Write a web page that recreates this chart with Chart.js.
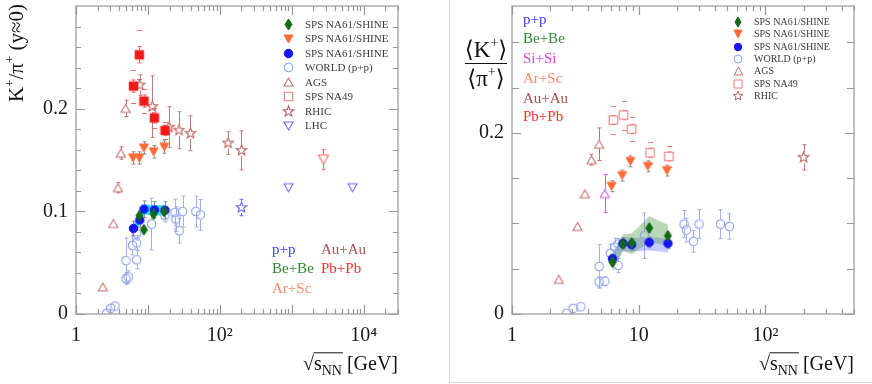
<!DOCTYPE html>
<html>
<head>
<meta charset="utf-8">
<script src="https://cdn.jsdelivr.net/npm/chart.js@4.4.1/dist/chart.umd.min.js"></script>
<style>
  html, body { margin: 0; padding: 0; background: #fff; }
  #wrap { position: relative; width: 872px; height: 384px; overflow: hidden; }
  #left { position: absolute; left: 0; top: 0; width: 448px; height: 384px; }
  #right { position: absolute; left: 449px; top: 0; width: 422px; height: 382px;
           border-left: 1px solid #d6d6d6; border-bottom: 1px solid #d6d6d6; }
  canvas { display: block; }
</style>
</head>
<body>
<div id="wrap">
  <div id="left"><canvas id="cLeft" width="448" height="384"></canvas></div>
  <div id="right"><canvas id="cRight" width="422" height="382"></canvas></div>
</div>
<script>
const FONT = "'Liberation Serif', 'DejaVu Serif', serif";

// ---------- left panel: K+/pi+ at y~0 ----------
const lBeBeX = [7.6, 8.8, 12.0, 16.8];
const lBeBeY = [0.0957, 0.0821, 0.0973, 0.0998];
const lBeBeE = [0.005, 0.005, 0.005, 0.005];
const lArScX = [6.2, 7.6, 8.8, 12.0, 16.9];
const lArScY = [0.152, 0.152, 0.1617, 0.158, 0.1626];
const lArScE = [0.006, 0.006, 0.006, 0.006, 0.006];
const lPPX = [6.3, 7.7, 8.8, 12.3, 17.3];
const lPPY = [0.0834, 0.0915, 0.1021, 0.1014, 0.1012];
const lPPE = [0.007, 0.007, 0.008, 0.008, 0.008];
const lBandX = [6.3, 7.7, 8.8, 12.3, 17.3];
const lBandHi = [0.088, 0.097, 0.107, 0.106, 0.106];
const lBandLo = [0.078, 0.087, 0.097, 0.096, 0.096];
const lWorldX = [2.67, 3.03, 3.48, 4.95, 5.33, 4.95, 6.1, 6.96, 6.96, 6.96, 11.2, 17.2, 23.7, 24.5, 27.2, 30.3, 46.4, 53.8];
const lWorldY = [0.0007, 0.0055, 0.0077, 0.0345, 0.036, 0.052, 0.0667, 0.0693, 0.0528, 0.078, 0.0876, 0.0957, 0.0988, 0.0925, 0.0812, 0.0998, 0.0998, 0.0966];
const lWorldE = [0.001, 0.001, 0.001, 0.006, 0.006, 0.022, 0.009, 0.007, 0.009, 0.006, 0.025, 0.006, 0.013, 0.012, 0.012, 0.015, 0.015, 0.015];
const lAgsX = [2.36, 3.3, 3.83, 4.2, 4.9];
const lAgsY = [0.0264, 0.0882, 0.123, 0.1568, 0.2003];
const lAgsE = [0.003, 0.003, 0.005, 0.006, 0.008];
const lNa49X = [6.3, 7.6, 8.8, 12.3, 17.3];
const lNa49Y = [0.222, 0.2525, 0.2074, 0.191, 0.1787];
const lNa49E = [0.006, 0.008, 0.006, 0.005, 0.005];
const lNa49S = [0.016, 0.024, 0.012, 0.010, 0.008];
const lRhicX = [7.7, 11.5, 19.6, 27, 39, 130, 200];
const lRhicY = [0.223, 0.202, 0.182, 0.179, 0.176, 0.1665, 0.1594];
const lRhicE = [0.01, 0.03, 0.02, 0.018, 0.017, 0.011, 0.019];
const lRhicPPX = [200];
const lRhicPPY = [0.1037];
const lRhicPPE = [0.008];
const lLhcX = [900, 7000];
const lLhcY = [0.123, 0.123];
const lLhcPbX = [2760];
const lLhcPbY = [0.1504];
const lLhcPbE = [0.01];

const lXLabelVals = [1, 100, 10000];
const lXLabelText = ['1', '10\u00b2', '10\u2074'];
const lYLabelVals = [0, 0.1, 0.2];
const lYLabelText = ['0', '0.1', '0.2'];
const lYTicks = [0, 0.02, 0.04, 0.06, 0.08, 0.1, 0.12, 0.14, 0.16, 0.18, 0.2, 0.22, 0.24, 0.26, 0.28];
const lLegendText = ['SPS NA61/SHINE', 'SPS NA61/SHINE', 'SPS NA61/SHINE', 'WORLD (p+p)', 'AGS', 'SPS NA49', 'RHIC', 'LHC'];
const lSysText = ['p+p', 'Be+Be', 'Ar+Sc', 'Au+Au', 'Pb+Pb'];

// ---------- right panel: <K+>/<pi+> ----------
const rBeBeX = [6.2, 7.5, 8.8, 12.1, 17.0];
const rBeBeY = [0.0572, 0.0773, 0.0785, 0.0949, 0.0864];
const rBeBeE = [0.004, 0.004, 0.004, 0.005, 0.005];
const rArScX = [6.1, 7.4, 8.6, 11.8, 16.7];
const rArScY = [0.141, 0.1528, 0.1685, 0.163, 0.1583];
const rArScE = [0.006, 0.006, 0.006, 0.006, 0.006];
const rPPX = [6.2, 7.5, 8.8, 12.1, 17.0];
const rPPY = [0.061, 0.078, 0.0766, 0.0791, 0.078];
const rPPE = [0.005, 0.006, 0.006, 0.006, 0.006];
const rGreenX = [6.2, 7.5, 8.8, 12.1, 17.0];
const rGreenHi = [0.066, 0.088, 0.089, 0.108, 0.0985];
const rGreenLo = [0.046, 0.070, 0.066, 0.079, 0.0755];
const rBlueX = [6.2, 7.5, 8.8, 12.1, 17.0];
const rBlueHi = [0.068, 0.085, 0.084, 0.085, 0.083];
const rBlueLo = [0.052, 0.069, 0.069, 0.070, 0.068];
const rWorldX = [2.7, 3.04, 3.49, 4.87, 4.87, 5.4, 5.98, 6.47, 6.87, 6.87, 11.1, 22.8, 23.8, 27, 29.9, 44.2, 52];
const rWorldY = [0.0008, 0.0062, 0.008, 0.0525, 0.0354, 0.0361, 0.067, 0.0737, 0.0536, 0.0773, 0.0864, 0.0992, 0.0927, 0.0802, 0.0992, 0.0992, 0.0966];
const rWorldE = [0.001, 0.001, 0.001, 0.024, 0.006, 0.005, 0.01, 0.01, 0.008, 0.006, 0.025, 0.015, 0.013, 0.012, 0.016, 0.016, 0.014];
const rAgsX = [2.34, 3.29, 3.76, 4.24, 4.87];
const rAgsY = [0.0383, 0.0966, 0.1327, 0.1703, 0.1874];
const rAgsE = [0.003, 0.003, 0.004, 0.006, 0.018];
const rSiX = [5.4];
const rSiY = [0.133];
const rSiE = [0.021];
const rNa49X = [6.3, 7.6, 8.8, 12.3, 17.3];
const rNa49Y = [0.2141, 0.2196, 0.2041, 0.178, 0.174];
const rNa49E = [0.005, 0.005, 0.005, 0.005, 0.005];
const rNa49S = [0.015, 0.016, 0.013, 0.012, 0.012];
const rRhicX = [200];
const rRhicY = [0.1729];
const rRhicE = [0.014];

const rXLabelVals = [1, 10, 100];
const rXLabelText = ['1', '10', '10\u00b2'];
const rYLabelVals = [0, 0.2];
const rYLabelText = ['0', '0.2'];
const rYTicks = [0, 0.05, 0.1, 0.15, 0.2, 0.25, 0.3];
const rLegendText = ['SPS NA61/SHINE', 'SPS NA61/SHINE', 'SPS NA61/SHINE', 'WORLD (p+p)', 'AGS', 'SPS NA49', 'RHIC'];
const rSysText = ['p+p', 'Be+Be', 'Si+Si', 'Ar+Sc', 'Au+Au', 'Pb+Pb'];

// ---------- markers ----------
function marker(shape, w, h, stroke, fill, lw) {
  const c = document.createElement('canvas');
  c.width = Math.ceil(w + 4); c.height = Math.ceil(h + 4);
  const g = c.getContext('2d');
  const cx = c.width / 2, cy = c.height / 2, hw = w / 2, hh = h / 2;
  g.beginPath();
  if (shape === 'circle') g.arc(cx, cy, hw, 0, Math.PI * 2);
  else if (shape === 'square') g.rect(cx - hw, cy - hh, w, h);
  else if (shape === 'tri') { g.moveTo(cx, cy - hh); g.lineTo(cx + hw, cy + hh); g.lineTo(cx - hw, cy + hh); g.closePath(); }
  else if (shape === 'triDown') { g.moveTo(cx, cy + hh); g.lineTo(cx + hw, cy - hh); g.lineTo(cx - hw, cy - hh); g.closePath(); }
  else if (shape === 'diamond') { g.moveTo(cx, cy - hh); g.lineTo(cx + hw, cy); g.lineTo(cx, cy + hh); g.lineTo(cx - hw, cy); g.closePath(); }
  else if (shape === 'star') {
    for (let k = 0; k < 10; k++) {
      const r = k % 2 ? hw * 0.42 : hw;
      const a = -Math.PI / 2 + k * Math.PI / 5;
      g.lineTo(cx + r * Math.cos(a), cy + r * Math.sin(a));
    }
    g.closePath();
  }
  if (fill) { g.fillStyle = fill; g.fill(); }
  if (stroke) { g.strokeStyle = stroke; g.lineWidth = lw || 1; g.stroke(); }
  return c;
}

const C = {
  green: '#136a13', orange: '#ff6a35', blue: '#1414f5', world: '#8fa3ec',
  ags: '#c2706c', na49: '#f07a7a', red: '#f01818', rhic: '#b9625e',
  lhc: '#6b6bff', lhcPb: '#ff6a5e', si: '#e058e0', err: '#8c8c8c'
};
const M = {
  diamond: marker('diamond', 7, 11, C.green, C.green, 1),
  triDown: marker('triDown', 9, 8, C.orange, C.orange, 1),
  dot: marker('circle', 8.5, 8.5, C.blue, C.blue, 1),
  world: marker('circle', 8.5, 8.5, C.world, null, 1.1),
  ags: marker('tri', 9, 8, C.ags, null, 1.1),
  na49: marker('square', 8.5, 8.5, C.na49, null, 1.1),
  na49Full: marker('square', 8.5, 8.5, C.red, C.red, 1),
  rhic: marker('star', 11, 11, C.rhic, null, 1.1),
  rhicPP: marker('star', 11, 11, C.lhc, null, 1.1),
  lhc: marker('triDown', 9, 8, C.lhc, null, 1.1),
  lhcPb: marker('triDown', 10, 9, C.lhcPb, null, 1.1),
  si: marker('tri', 9, 8, C.si, null, 1.1),
  sDiamond: marker('diamond', 6, 10, C.green, C.green, 1),
  sTriDown: marker('triDown', 8, 8, C.orange, C.orange, 1),
  sDot: marker('circle', 7.5, 7.5, C.blue, C.blue, 1),
  sWorld: marker('circle', 8, 8, C.world, null, 1),
  sAgs: marker('tri', 8.5, 8, C.ags, null, 1),
  sNa49: marker('square', 8, 8, C.na49, null, 1),
  sRhic: marker('star', 10, 10, C.rhic, null, 1)
};

function pts(xs, ys) { return xs.map((x, i) => ({ x, y: ys[i] })); }
function scat(label, xs, ys, img, order, err, errColor, sys) {
  return {
    type: 'scatter', label, data: pts(xs, ys), pointStyle: img,
    pointRadius: 5, pointHoverRadius: 5, order,
    errY: err, sysY: sys, errColor: errColor, gap: img.height / 2 - 2
  };
}
function band(xs, hi, lo, color) {
  const base = { type: 'line', pointRadius: 0, borderWidth: 0, tension: 0, order: 20 };
  return [
    Object.assign({ label: 'band hi', data: pts(xs, hi), fill: false }, base),
    Object.assign({ label: 'band lo', data: pts(xs, lo), fill: '-1', backgroundColor: color }, base)
  ];
}

// ---------- plugins ----------
const errorBars = {
  id: 'errorBars',
  beforeDatasetsDraw(chart) {
    const { ctx, scales: { x, y } } = chart;
    ctx.save();
    ctx.lineWidth = 1;
    chart.data.datasets.forEach(ds => {
      if (!ds.errY && !ds.sysY) return;
      ctx.strokeStyle = ds.errColor;
      ds.data.forEach((p, i) => {
        const px = Math.round(x.getPixelForValue(p.x)) + 0.5;
        const py = y.getPixelForValue(p.y);
        ctx.beginPath();
        if (ds.errY) {
          const t = y.getPixelForValue(p.y + ds.errY[i]);
          const b = y.getPixelForValue(p.y - ds.errY[i]);
          if (py - t > ds.gap) { ctx.moveTo(px, t); ctx.lineTo(px, py - ds.gap); ctx.moveTo(px - 2, t); ctx.lineTo(px + 2, t); }
          if (b - py > ds.gap) { ctx.moveTo(px, py + ds.gap); ctx.lineTo(px, b); ctx.moveTo(px - 2, b); ctx.lineTo(px + 2, b); }
        }
        if (ds.sysY) {
          [1, -1].forEach(s => {
            const q = Math.round(y.getPixelForValue(p.y + s * ds.sysY[i])) + 0.5;
            ctx.moveTo(px - 2.5, q); ctx.lineTo(px + 2.5, q);
          });
        }
        ctx.stroke();
      });
    });
    ctx.restore();
  }
};

function logTicks(max) {
  const major = [], minor = [];
  for (let d = 1; d <= max; d *= 10) {
    major.push(d);
    for (let k = 2; k <= 9; k++) if (k * d <= max) minor.push(k * d);
  }
  return { major, minor };
}

const frame = {
  id: 'frame',
  afterDatasetsDraw(chart, args, opts) {
    const { ctx, chartArea: a, scales: { x, y } } = chart;
    ctx.save();
    ctx.strokeStyle = '#979797';
    ctx.lineWidth = 1.2;
    ctx.strokeRect(a.left, a.top, a.right - a.left, a.bottom - a.top);
    ctx.beginPath();
    const xt = logTicks(x.max);
    const xMark = (v, len) => {
      const px = Math.round(x.getPixelForValue(v)) + 0.5;
      ctx.moveTo(px, a.bottom); ctx.lineTo(px, a.bottom - len);
      ctx.moveTo(px, a.top); ctx.lineTo(px, a.top + len);
    };
    xt.major.forEach(v => xMark(v, 9));
    xt.minor.forEach(v => xMark(v, 5));
    opts.yTicks.forEach(v => {
      const len = opts.yMajor.includes(v) ? 9 : opts.yMinorLen;
      const py = Math.round(y.getPixelForValue(v)) + 0.5;
      ctx.moveTo(a.left, py); ctx.lineTo(a.left + len, py);
      ctx.moveTo(a.right, py); ctx.lineTo(a.right - len, py);
    });
    ctx.stroke();
    ctx.restore();
  }
};

function richWidth(ctx, parts, size) {
  let w = 0;
  parts.forEach(([t, sc]) => { ctx.font = `${size * sc}px ${FONT}`; w += ctx.measureText(t).width; });
  return w;
}
function drawRich(ctx, parts, x, y, size) {
  let cx = x;
  parts.forEach(([t, sc, dy]) => {
    ctx.font = `${size * sc}px ${FONT}`;
    ctx.fillText(t, cx, y + dy * size);
    cx += ctx.measureText(t).width;
  });
  return cx;
}
function drawSqrtTitle(ctx, right, base, size) {
  const parts = [['\u221a', 1, 0], ['s', 1, 0], ['NN', 0.7, 0.24], [' [GeV]', 1, 0]];
  ctx.save();
  ctx.fillStyle = '#111';
  ctx.textBaseline = 'alphabetic';
  const w = richWidth(ctx, parts, size);
  const x0 = right - w;
  ctx.font = `${size}px ${FONT}`;
  const rw = ctx.measureText('\u221a').width;
  const end = x0 + richWidth(ctx, parts.slice(0, 3), size);
  drawRich(ctx, parts, x0, base, size);
  ctx.strokeStyle = '#111';
  ctx.lineWidth = 1;
  ctx.beginPath();
  ctx.moveTo(x0 + rw - 0.5, base - size * 0.86);
  ctx.lineTo(end + 1, base - size * 0.86);
  ctx.stroke();
  ctx.restore();
}
function drawLegend(ctx, imgs, texts, sx, tx, y0, dy, size) {
  ctx.save();
  ctx.font = `${size}px ${FONT}`;
  ctx.fillStyle = '#3c3c3c';
  ctx.textBaseline = 'middle';
  imgs.forEach((img, i) => {
    const y = y0 + i * dy;
    ctx.drawImage(img, Math.round(sx - img.width / 2), Math.round(y - img.height / 2));
    ctx.fillText(texts[i], tx, y + 0.5);
  });
  ctx.restore();
}
function drawLabels(ctx, texts, colors, xs, ys, size) {
  ctx.save();
  ctx.font = `${size}px ${FONT}`;
  ctx.textBaseline = 'middle';
  texts.forEach((t, i) => { ctx.fillStyle = colors[i]; ctx.fillText(t, xs[i], ys[i]); });
  ctx.restore();
}

const sysColor = { 'p+p': '#3c3cff', 'Be+Be': '#2f8a2f', 'Si+Si': '#dd44dd', 'Ar+Sc': '#ff8a62', 'Au+Au': '#a5504e', 'Pb+Pb': '#ff2c2c' };

const leftText = {
  id: 'leftText',
  afterDraw(chart) {
    const ctx = chart.ctx;
    ctx.save();
    ctx.fillStyle = '#111';
    ctx.textBaseline = 'alphabetic';
    ctx.translate(23, 4);
    ctx.rotate(-Math.PI / 2);
    const title = [['K', 1, 0], ['+', 0.62, -0.42], ['/\u03c0', 1, 0], ['+', 0.62, -0.42], [' (y\u22480)', 1, 0]];
    drawRich(ctx, title, -richWidth(ctx, title, 21), 0, 21);
    ctx.restore();
    drawSqrtTitle(ctx, chart.chartArea.right, 370, 20);
    drawLegend(ctx, [M.diamond, M.triDown, M.dot, M.world, M.ags, M.na49, M.rhic, M.lhc],
      lLegendText, 288, 305, 24.3, 14.5, 11);
    drawLabels(ctx, lSysText, lSysText.map(t => sysColor[t]),
      [272, 272, 272, 321, 321], [250, 269, 289, 250, 269], 15);
  }
};

const rightText = {
  id: 'rightText',
  afterDraw(chart) {
    const ctx = chart.ctx;
    ctx.save();
    ctx.fillStyle = '#111';
    ctx.textBaseline = 'alphabetic';
    const num = [['\u27e8', 1, 0], ['K', 1, 0], ['+', 0.6, -0.42], ['\u27e9', 1, 0]];
    const den = [['\u27e8', 1, 0], ['\u03c0', 1, 0], ['+', 0.6, -0.42], ['\u27e9', 1, 0]];
    const cx = 36;
    drawRich(ctx, num, cx - richWidth(ctx, num, 23) / 2, 57, 23);
    drawRich(ctx, den, cx - richWidth(ctx, den, 23) / 2, 86, 23);
    ctx.strokeStyle = '#111';
    ctx.lineWidth = 1.2;
    ctx.beginPath();
    ctx.moveTo(15, 63.5); ctx.lineTo(57, 63.5);
    ctx.stroke();
    ctx.restore();
    drawSqrtTitle(ctx, chart.chartArea.right, 370, 20);
    drawLegend(ctx, [M.sDiamond, M.sTriDown, M.sDot, M.sWorld, M.sAgs, M.sNa49, M.sRhic],
      rLegendText, 288, 304, 22, 12.3, 10);
    drawLabels(ctx, rSysText, rSysText.map(t => sysColor[t]),
      [73, 73, 73, 73, 73, 73], [20, 39, 59, 79, 99, 117], 15);
  }
};

function axes(xMax, yMax, xVals, xText, yVals, yText, leftW, bottomH) {
  const tickFont = { family: FONT, size: 20 };
  return {
    x: {
      type: 'logarithmic', min: 1, max: xMax,
      grid: { display: false, drawTicks: false }, border: { display: false },
      ticks: { font: tickFont, color: '#1a1a1a', padding: 10, autoSkip: false, maxRotation: 0,
               callback: (v, i) => xText[i] },
      afterBuildTicks: s => { s.ticks = xVals.map(v => ({ value: v })); },
      afterFit: s => { s.height = bottomH; s.paddingLeft = 0; s.paddingRight = 0; }
    },
    y: {
      type: 'linear', min: 0, max: yMax,
      grid: { display: false, drawTicks: false }, border: { display: false },
      ticks: { font: tickFont, color: '#1a1a1a', padding: 8, autoSkip: false,
               callback: (v, i) => yText[i] },
      afterBuildTicks: s => { s.ticks = yVals.map(v => ({ value: v })); },
      afterFit: s => { s.width = leftW; s.paddingTop = 0; s.paddingBottom = 0; }
    }
  };
}

function baseOptions(scales, pad, frameOpts) {
  return {
    responsive: false, animation: false, devicePixelRatio: 1, events: [],
    layout: { padding: pad },
    scales,
    plugins: { legend: { display: false }, tooltip: { enabled: false }, frame: frameOpts }
  };
}

/* eslint-disable no-new */
new Chart(document.getElementById('cLeft'), {
  type: 'scatter',
  data: {
    datasets: [
      ...band(lBandX, lBandHi, lBandLo, 'rgba(0,225,255,0.85)'),
      scat('WORLD (p+p)', lWorldX, lWorldY, M.world, 10, lWorldE, '#9db0f0'),
      scat('AGS', lAgsX, lAgsY, M.ags, 8, lAgsE, C.ags),
      scat('RHIC', lRhicX, lRhicY, M.rhic, 8, lRhicE, '#c47a77'),
      scat('RHIC p+p', lRhicPPX, lRhicPPY, M.rhicPP, 8, lRhicPPE, C.lhc),
      scat('LHC', lLhcX, lLhcY, M.lhc, 8),
      scat('LHC Pb+Pb', lLhcPbX, lLhcPbY, M.lhcPb, 8, lLhcPbE, C.lhcPb),
      scat('SPS NA49', lNa49X, lNa49Y, M.na49Full, 6, lNa49E, '#f06a6a', lNa49S),
      scat('NA61 p+p', lPPX, lPPY, M.dot, 2, lPPE, C.err),
      scat('NA61 Ar+Sc', lArScX, lArScY, M.triDown, 1, lArScE, C.err),
      scat('NA61 Be+Be', lBeBeX, lBeBeY, M.diamond, 0, lBeBeE, C.err)
    ]
  },
  options: baseOptions(axes(30000, 0.3, lXLabelVals, lXLabelText, lYLabelVals, lYLabelText, 76, 70),
    { top: 4, right: 50, left: 0, bottom: 0 },
    { yTicks: lYTicks, yMajor: lYLabelVals, yMinorLen: 5 }),
  plugins: [errorBars, frame, leftText]
});

new Chart(document.getElementById('cRight'), {
  type: 'scatter',
  data: {
    datasets: [
      ...band(rGreenX, rGreenHi, rGreenLo, 'rgba(90,160,90,0.42)'),
      ...band(rBlueX, rBlueHi, rBlueLo, 'rgba(95,110,255,0.36)'),
      scat('WORLD (p+p)', rWorldX, rWorldY, M.world, 10, rWorldE, '#9db0f0'),
      scat('AGS', rAgsX, rAgsY, M.ags, 8, rAgsE, C.ags),
      scat('Si+Si', rSiX, rSiY, M.si, 8, rSiE, C.si),
      scat('RHIC', rRhicX, rRhicY, M.rhic, 8, rRhicE, '#c47a77'),
      scat('SPS NA49', rNa49X, rNa49Y, M.na49, 6, rNa49E, '#f07a7a', rNa49S),
      scat('NA61 p+p', rPPX, rPPY, M.dot, 2, rPPE, C.err),
      scat('NA61 Ar+Sc', rArScX, rArScY, M.triDown, 1, rArScE, C.err),
      scat('NA61 Be+Be', rBeBeX, rBeBeY, M.diamond, 0, rBeBeE, C.err)
    ]
  },
  options: baseOptions(axes(500, 0.34, rXLabelVals, rXLabelText, rYLabelVals, rYLabelText, 62, 68),
    { top: 4, right: 18, left: 0, bottom: 0 },
    { yTicks: rYTicks, yMajor: rYLabelVals, yMinorLen: 7 }),
  plugins: [errorBars, frame, rightText]
});
</script>
</body>
</html>
